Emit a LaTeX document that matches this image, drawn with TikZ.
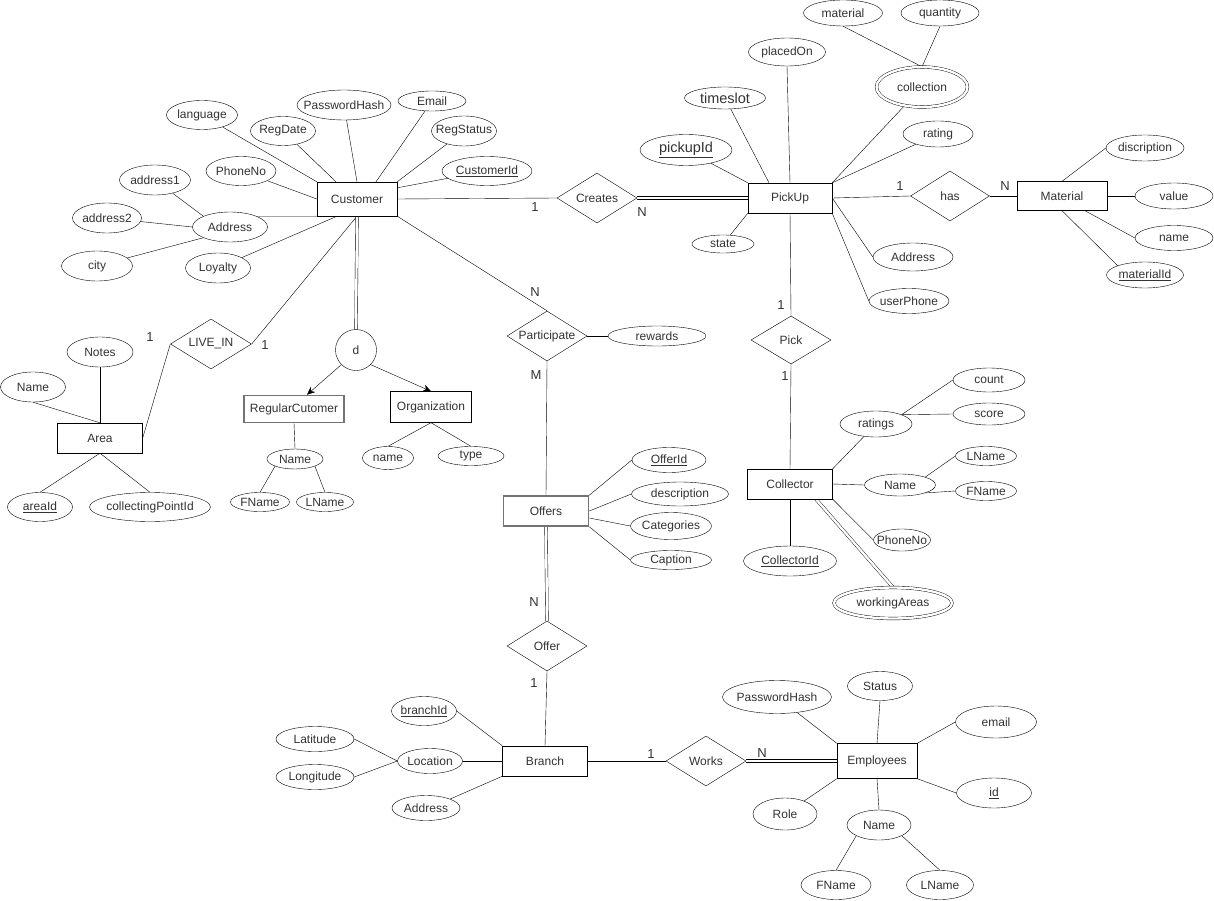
\documentclass[tikz,border=0pt]{standalone}
\usepackage{fontspec}
\setmainfont{Liberation Sans}
\usetikzlibrary{shapes.geometric,arrows.meta,calc}
\pgfdeclarelayer{bg}
\pgfsetlayers{bg,main}
\newcommand\mkz[1]{\makebox[0pt]{#1}}
\begin{document}
\begin{tikzpicture}[x=1pt,y=-1pt,line width=1.05pt,
  every node/.style={font=\fontsize{12pt}{14pt}\selectfont, text=black!80},
  ell/.style 2 args={ellipse, draw, fill=white, minimum width=#1pt, minimum height=#2pt, inner sep=0pt},
  ent/.style 2 args={rectangle, draw, fill=white, minimum width=#1pt, minimum height=#2pt, inner sep=0pt},
  grayent/.style={draw=black!55, line width=1.6pt},
  rel/.style={diamond, draw, fill=white, minimum width=80pt, minimum height=50pt, inner sep=0pt},
  dbl/.style={double, double distance=2.4pt},
  multi/.style={double, double distance=2.4pt},
  lbl/.style={font=\fontsize{13pt}{15pt}\selectfont, inner sep=0pt},
  big/.style={font=\fontsize{14.5pt}{17pt}\selectfont}]
\useasboundingbox (0,0) rectangle (1214,901);
\begin{pgfonlayer}{bg}
\fill[white] (0,0) rectangle (1214,901);
\end{pgfonlayer}

% ---------- Customer ----------
\node[ent={80}{34}] (cust) at (357,199) {Customer};
\node[ell={71}{29}] (lang) at (202,115) {\mkz{language}};
\node[ell={65}{29}] (regdate) at (283,131) {\mkz{RegDate}};
\node[ell={94}{30}] (pwhash) at (344,105) {\mkz{PasswordHash}};
\node[ell={68}{20}] (email) at (432,101) {\mkz{Email}};
\node[ell={65}{30}] (regstatus) at (464,131) {\mkz{RegStatus}};
\node[ell={90}{29}] (custid) at (487,171) {\mkz{\underline{CustomerId}}};
\node[ell={70}{29}] (phone) at (241,171) {\mkz{PhoneNo}};
\node[ell={71}{30}] (addr1) at (155,180) {\mkz{address1}};
\node[ell={69}{30}] (addr2) at (107,218) {\mkz{address2}};
\node[ell={75}{30}] (addr) at (230,227) {\mkz{Address}};
\node[ell={71}{30}] (city) at (97,266) {\mkz{city}};
\node[ell={65}{30}] (loyalty) at (218,268) {\mkz{Loyalty}};

% ---------- Area / LIVE_IN ----------
\node[rel, minimum width=81pt] (livein) at (211,344) {\mkz{LIVE\_IN}};
\node[ent={85}{30}] (area) at (100,438) {Area};
\node[ell={66}{30}] (notes) at (100,352) {\mkz{Notes}};
\node[ell={65}{30}] (aname) at (33,387) {\mkz{Name}};
\node[ell={65}{29}] (areaid) at (40,507) {\mkz{\underline{areaId}}};
\node[ell={121}{29}] (cpid) at (150,507) {\mkz{collectingPointId}};

% ---------- Specialisation ----------
\node[circle, draw, fill=white, minimum size=41pt, inner sep=0pt] (d) at (356,350) {d};
\node[ent={100}{27}, grayent] (reg) at (294,409) {RegularCutomer};
\node[ent={81}{31}] (org) at (431,407) {Organization};
\node[ell={56}{20}] (rname) at (295,459) {\mkz{Name}};
\node[ell={59}{19}] (rfname) at (260,502) {\mkz{FName}};
\node[ell={57}{19}] (rlname) at (325,502) {\mkz{LName}};
\node[ell={51}{23}] (oname) at (388,458) {\mkz{name}};
\node[ell={66}{19}] (otype) at (471,456) {\mkz{type}};

% ---------- Creates / PickUp ----------
\node[rel] (creates) at (597,198) {\mkz{Creates}};
\node[ent={84}{30}] (pickup) at (790,198) {PickUp};
\node[ell={92}{31}, big] (pickupid) at (686,150) {\mkz{\underline{pickupId}}};
\node[ell={81}{22}, big] (timeslot) at (725,98) {\mkz{timeslot}};
\node[ell={77}{28}] (placedon) at (787,52) {\mkz{placedOn}};
\node[ell={62}{18}] (state) at (723,244) {\mkz{state}};
\node[ell={91}{40}, multi] (collection) at (922,87) {\mkz{collection}};
\node[ell={79}{26}] (pmaterial) at (843,13) {\mkz{material}};
\node[ell={78}{26}] (quantity) at (940,13) {\mkz{quantity}};
\node[ell={70}{26}] (rating) at (938,134) {\mkz{rating}};
\node[ell={80}{28}] (paddr) at (913,257) {\mkz{Address}};
\node[ell={80}{25}] (userphone) at (909,301) {\mkz{userPhone}};

% ---------- has / Material ----------
\node[rel, minimum width=79pt] (has) at (950,196) {\mkz{has}};
\node[ent={90}{29}] (material) at (1062,196) {Material};
\node[ell={78}{26}] (disc) at (1145,148) {\mkz{discription}};
\node[ell={78}{26}] (value) at (1174,196) {\mkz{value}};
\node[ell={78}{25}] (mname) at (1174,238) {\mkz{name}};
\node[ell={77}{26}] (matid) at (1145,275) {\mkz{\underline{materialId}}};

% ---------- Pick / Collector ----------
\node[rel, minimum height=48pt] (pick) at (791,340) {\mkz{Pick}};
\node[ent={85}{30}] (collector) at (790,484) {Collector};
\node[ell={72}{26}] (ratings) at (876,424) {\mkz{ratings}};
\node[ell={72}{24}] (count) at (989,380) {\mkz{count}};
\node[ell={72}{22}] (score) at (989,414) {\mkz{score}};
\node[ell={71}{22}] (cname) at (900,485) {\mkz{Name}};
\node[ell={61}{19}] (clname) at (986,456) {\mkz{LName}};
\node[ell={61}{19}] (cfname) at (986,491) {\mkz{FName}};
\node[ell={57}{22}] (cphone) at (902,540) {\mkz{PhoneNo}};
\node[ell={93}{30}] (collid) at (790,561) {\mkz{\underline{CollectorId}}};
\node[ell={118}{31}, multi] (wa) at (893,603) {\mkz{workingAreas}};

% ---------- Participate / Offers ----------
\node[rel] (part) at (547,336) {\mkz{Participate}};
\node[ell={98}{20}] (rewards) at (657,336) {\mkz{rewards}};
\node[ent={85}{30}, grayent] (offers) at (546,511) {Offers};
\node[ell={74}{25}] (offerid) at (669,460) {\mkz{\underline{OfferId}}};
\node[ell={97}{24}] (desc) at (680,494) {\mkz{description}};
\node[ell={81}{27}] (cat) at (671,526) {\mkz{Categories}};
\node[ell={81}{19}] (caption) at (671,560) {\mkz{Caption}};
\node[rel] (offer) at (547,646) {\mkz{Offer}};

% ---------- Branch ----------
\node[ent={85}{30}] (branch) at (545,761) {Branch};
\node[ell={65}{29}] (branchid) at (424,711) {\mkz{\underline{branchId}}};
\node[ell={65}{25}] (location) at (430,761) {\mkz{Location}};
\node[ell={78}{25}] (lat) at (315,739) {\mkz{Latitude}};
\node[ell={78}{25}] (lon) at (315,777) {\mkz{Longitude}};
\node[ell={68}{25}] (baddr) at (426,808) {\mkz{Address}};
\node[rel] (works) at (706,761) {\mkz{Works}};

% ---------- Employees ----------
\node[ent={80}{35}] (emp) at (877,761) {Employees};
\node[ell={109}{33}] (epw) at (777,697) {\mkz{PasswordHash}};
\node[ell={65}{29}] (status) at (880,686) {\mkz{Status}};
\node[ell={81}{32}] (eemail) at (996,722) {\mkz{email}};
\node[ell={75}{30}] (eid) at (994,793) {\mkz{\underline{id}}};
\node[ell={64}{32}] (role) at (785,814) {\mkz{Role}};
\node[ell={64}{30}] (ename) at (879,825) {\mkz{Name}};
\node[ell={70}{29}] (efname) at (836,885) {\mkz{FName}};
\node[ell={67}{29}] (elname) at (940,885) {\mkz{LName}};

% ---------- cardinality labels ----------
\node[lbl] (c1) at (535,207) {1};
\node[lbl] (c2) at (642,212) {N};
\node[lbl] (c3) at (535,292) {N};
\node[lbl] (c4) at (781,305) {1};
\node[lbl] (c5) at (785,376) {1};
\node[lbl] (c6) at (900,186) {1};
\node[lbl] (c7) at (1005,186) {N};
\node[lbl] (c8) at (150,337) {1};
\node[lbl] (c9) at (265,345) {1};
\node[lbl] (c10) at (536,375) {M};
\node[lbl] (c11) at (534,602) {N};
\node[lbl] (c12) at (534,683) {1};
\node[lbl] (c13) at (651,754) {1};
\node[lbl] (c14) at (762,753) {N};

% ---------- connectors ----------
\begin{pgfonlayer}{bg}
\draw (lang) -- (cust.north west);
\draw (regdate) -- ([xshift=-21pt]cust.north);
\draw (pwhash) -- (cust.north);
\draw (email) -- ([xshift=19pt]cust.north);
\draw (regstatus) -- (cust.north east);
\draw (custid) -- ([yshift=-6pt]cust.north east);
\draw (phone) -- (cust.west);
\draw (addr.north east) -- (cust.south west);
\draw (loyalty) -- ([xshift=-20pt]cust.south);
\draw (addr1) -- (addr.north west);
\draw (addr2) -- (addr.west);
\draw (city) -- (addr.south west);
\draw (cust.south) -- (livein.east);
\draw (area.east) -- (livein.west);
\draw (notes.south) -- (area.north);
\draw (aname.south) -- (area.north);
\draw (areaid.north) -- (area.south);
\draw (cpid.north) -- (area.south);
\draw[dbl] (cust.south) -- (d.north);
\draw[-{Stealth[length=8pt,width=7pt]}] (d.south west) -- ([xshift=13pt]reg.north);
\draw[-{Stealth[length=8pt,width=7pt]}] (d.south east) -- (org.north);
\draw (reg.south) -- (rname.north);
\draw (rname.south west) -- (rfname.north);
\draw (rname.south east) -- (rlname.north);
\draw (org.south) -- (oname.north);
\draw (org.south) -- (otype.north);
\draw (cust.east) -- (creates.west);
\draw[dbl] (creates.east) -- (pickup.west);
\draw (pickupid) -- (pickup.north west);
\draw (timeslot) -- ([xshift=-21pt]pickup.north);
\draw (placedon.south) -- (pickup.north);
\draw (state) -- (pickup.south west);
\draw (pmaterial.south) -- (collection.north);
\draw (quantity.south) -- (collection.north);
\draw (collection) -- (pickup.north east);
\draw (rating) -- (pickup.north east);
\draw (paddr.west) -- (pickup.east);
\draw (userphone.west) -- (pickup.south east);
\draw (pickup.east) -- (has.west);
\draw (has.east) -- (material.west);
\draw (disc.west) -- (material.north);
\draw (material.east) -- (value.west);
\draw ([xshift=23pt]material.south) -- (mname.west);
\draw (material.south) -- (matid.north west);
\draw (pickup.south) -- (pick.north);
\draw (pick.south) -- (collector.north);
\draw (ratings) -- (collector.north east);
\draw (count.west) -- (ratings.north east);
\draw (score.west) -- (ratings.north east);
\draw (collector.east) -- (cname.west);
\draw (cname.north east) -- (clname.west);
\draw (cname.south east) -- (cfname.west);
\draw (collector.south east) -- (cphone.west);
\draw (collector.south) -- (collid.north);
\draw[dbl] ([xshift=26pt]collector.south) -- (wa.north);
\draw (cust.south east) -- (part.north);
\draw (part.east) -- (rewards.west);
\draw (part.south) -- (offers.north);
\draw (offers.north east) -- (offerid.west);
\draw (offers.east) -- (desc.west);
\draw ([yshift=-7pt]offers.east) -- (cat.west);
\draw (offers.south east) -- (caption.west);
\draw[dbl] (offers.south) -- (offer.north);
\draw (offer.south) -- (branch.north);
\draw (branchid.east) -- (branch.north west);
\draw (location.east) -- (branch.west);
\draw (lat.east) -- (location.west);
\draw (lon.east) -- (location.west);
\draw (baddr.north east) -- (branch.south west);
\draw (branch.east) -- (works.west);
\draw[dbl] (works.east) -- (emp.west);
\draw (epw) -- (emp.north west);
\draw (status.south) -- (emp.north);
\draw (eemail.west) -- (emp.north east);
\draw (eid.west) -- (emp.south east);
\draw (role) -- (emp.south west);
\draw (emp.south) -- (ename.north);
\draw (efname.north) -- (ename.south west);
\draw (elname.north) -- (ename.south east);
\end{pgfonlayer}
\end{tikzpicture}
\end{document}
